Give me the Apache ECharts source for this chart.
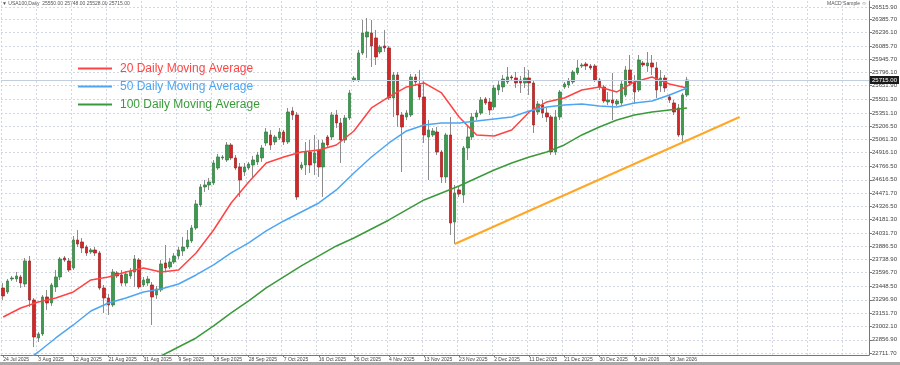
<!DOCTYPE html>
<html><head><meta charset="utf-8">
<script src="https://cdn.jsdelivr.net/npm/echarts@6/dist/echarts.min.js"></script>
<style>html,body{margin:0;padding:0;background:#fff}#c{width:900px;height:365px}</style>
</head><body><div id="c"></div>
<script>
// ---- data ----
const symbolTitle = 'USA100,Daily';
const eaTitle = 'MACD Sample \u263A';
const startDate = '2025-07-24';      // first bar (broker bars Sun-Fri)
const totalSlots = 198;              // bars + empty chart-shift area
const labelEvery = 8;
// [open, close, low, high]
const ohlc = [
[23427,23339,23295,23482],[23383,23504,23361,23526],[23526,23537,23504,23559],[23526,23559,23493,23603],
[23548,23482,23427,23570],[23471,23724,23438,23757],[23724,23295,23218,23779],[23295,22888,22778,23317],
[22877,22921,22833,22943],[22921,23328,22899,23350],[23328,23262,23185,23405],[23262,23460,23229,23482],
[23438,23548,23383,23625],[23548,23746,23515,23768],[23757,23735,23713,23779],[23724,23625,23603,23757],
[23647,23955,23625,23999],[23955,23911,23878,24065],[23933,23867,23812,23977],[23878,23812,23779,23900],
[23823,23845,23801,23867],[23845,23812,23779,23878],[23812,23427,23405,23834],[23427,23317,23152,23460],
[23317,23240,23130,23361],[23240,23603,23218,23636],[23592,23559,23537,23614],[23570,23482,23449,23625],
[23482,23581,23449,23614],[23559,23614,23526,23647],[23603,23746,23438,23790],[23735,23438,23416,23757],
[23460,23515,23438,23548],[23482,23526,23449,23559],[23460,23328,23020,23493],[23350,23416,23306,23449],
[23405,23691,23383,23735],[23702,23647,23603,23900],[23658,23713,23636,23757],[23713,23779,23691,23812],
[23779,23845,23746,23878],[23834,23878,23779,23988],[23878,23955,23856,24065],[23944,24087,23922,24120],
[24087,24351,24065,24395],[24340,24538,24318,24571],[24538,24560,24483,24615],[24560,24593,24505,24637],
[24582,24802,24560,24835],[24747,24868,24725,24901],[24857,24868,24835,24890],[24835,25000,24813,25033],
[25000,24857,24835,25022],[24857,24747,24725,24890],[24758,24615,24428,24802],[24703,24758,24659,24802],
[24747,24791,24725,24813],[24780,24835,24648,24879],[24813,24890,24780,24923],[24857,24967,24813,25000],
[25022,25143,24989,25187],[25110,25000,24945,25165],[25033,25088,25000,25110],[25077,25143,25055,25187],
[25143,25033,25000,25165],[25033,25363,25011,25407],[25374,25330,25275,25418],[25330,24428,24395,25363],
[24747,24780,24725,24813],[24780,24923,24670,25033],[24923,24780,24692,25055],[24802,24912,24670,25110],
[24945,24758,24648,25055],[24758,25022,24428,25055],[25088,25000,24978,25110],[25088,25330,25055,25363],
[25330,25242,25187,25385],[25242,25055,24802,25297],[25055,25297,25022,25330],[25297,25572,25275,25605],
[25715,25737,25693,25759],[25715,26012,25693,26045],[26012,26232,25990,26375],[26188,26243,25957,26397],
[26232,26089,25858,26375],[26177,25968,25880,26265],[26023,26078,26001,26100],[26089,26067,26023,26265],
[26067,25517,25495,26089],[25517,25770,25308,25803],[25770,25330,25198,25803],[25330,25198,24703,25363],
[25308,25352,25275,25385],[25330,25748,25308,25781],[25748,25693,25649,25781],[25660,25528,25495,25825],
[25528,25110,25022,25715],[25088,25165,24615,25275],[25110,25154,25088,25187],[25143,24923,24890,25198],
[24923,24648,24582,24945],[24648,25110,24582,25132],[25110,24142,24010,25308],[24153,24472,23911,24560],
[24505,24461,24428,24538],[24450,24967,24362,24989],[24967,25088,24835,25220],[25088,25308,25055,25352],
[25308,25352,25275,25385],[25352,25495,25330,25528],[25506,25462,25440,25528],[25473,25385,25330,25517],
[25418,25627,25385,25660],[25605,25660,25550,25715],[25638,25726,25583,25770],[25693,25748,25671,25858],
[25748,25737,25715,25770],[25737,25682,25627,25803],[25715,25682,25572,25759],[25682,25737,25627,25858],
[25737,25682,25550,25825],[25682,25220,25132,25715],[25363,25451,25330,25484],[25440,25352,25297,25495],
[25352,25308,25253,25407],[25308,24923,24890,25330],[24923,25308,24890,25385],[25308,25583,25275,25605],
[25638,25671,25616,25693],[25660,25704,25627,25737],[25693,25803,25671,25825],[25792,25847,25770,25935],
[25869,25880,25847,25902],[25891,25869,25825,25913],[25869,25847,25825,25891],[25869,25715,25693,25891],
[25715,25638,25605,25737],[25638,25484,25462,25660],[25473,25495,25440,25583],[25495,25462,25275,25792],
[25451,25484,25429,25506],[25462,25671,25429,25715],[25550,25825,25528,25869],[25825,25682,25649,25990],
[25693,25583,25451,25770],[25605,25935,25583,25990],[25902,25880,25858,25924],[25869,25902,25803,26023],
[25902,25858,25770,25990],[25847,25605,25517,25913],[25649,25737,25583,25825],[25737,25627,25583,25770],
[25528,25495,25462,25561],[25462,25363,25330,25495],[25407,25110,25088,25451],[25110,25550,25033,25572],
[25550,25715,25528,25748]
];
// moving averages read every maStep bars
const maStep = 4;
const ma20Start = 0;
const ma20 = [23108,23207,23273,23317,23383,23515,23548,23603,23647,23603,23625,23812,24065,24362,24593,24802,
  24868,24923,24945,25000,25154,25407,25528,25638,25682,25572,25308,25110,25099,25165,25363,25473,25517,25605,
  25638,25583,25693,25748,25671,25627];
const ma50Start = 4;
const ma50 = [22580,22723,22877,23020,23174,23262,23317,23383,23416,23471,23570,23680,23812,23922,24054,24164,
  24263,24362,24505,24692,24868,25022,25154,25220,25242,25242,25264,25286,25308,25374,25418,25440,25451,25429,
  25418,25462,25484,25550,25627];
const ma100Start = 32;
const ma100 = [22547,22679,22778,22877,23009,23152,23284,23427,23548,23669,23779,23889,23977,24076,24175,24285,
  24395,24472,24549,24637,24725,24802,24868,24923,25000,25110,25198,25275,25330,25363,25385,25407];
// orange support trendline [barIndex, price]
const trendLine = [[103, 23911], [168, 25308]];
// right price scale labels
const yTicks = [22711.7,22856.9,23002.1,23151.7,23296.9,23448.5,23596.7,23738.9,23886.5,24031.7,24181.3,
  24326.5,24471.7,24616.5,24766.5,24916.1,25061.3,25206.5,25351.1,25501.3,25651.9,25796.1,25945.7,26085.7,
  26236.1,26385.7,26515.9];
const yMin = 22689.7, yMax = 26583.7;
const seriesNames = ['20 Daily Moving Average', '50 Daily Moving Average', '100 Daily Moving Average'];
const maColors = ['#ff4444', '#4ea6f2', '#3a9a3a'];

// ---- build ----
const MONTHS = ['Jan','Feb','Mar','Apr','May','Jun','Jul','Aug','Sep','Oct','Nov','Dec'];
const dates = [];
{
  const d = new Date(startDate + 'T00:00:00Z');
  while (dates.length < totalSlots) {
    if (d.getUTCDay() !== 6) dates.push(d.getUTCDate() + ' ' + MONTHS[d.getUTCMonth()] + ' ' + d.getUTCFullYear());
    d.setUTCDate(d.getUTCDate() + 1);
  }
}
const lastIdx = ohlc.length - 1;
const bodies = ohlc.map(r => [r[0], r[1], Math.min(r[0], r[1]), Math.max(r[0], r[1])]);
const maData = (arr, start) => arr.map((v, i) => [start + i * maStep, v]);
const last = ohlc[lastIdx];
const f2 = v => v.toFixed(2);
const header = '\u25BC ' + symbolTitle + '  ' + f2(last[0]) + ' ' + f2(last[3]) + ' ' + f2(last[2]) + ' ' + f2(last[1]);

const FONT = 'Liberation Sans, Arial, sans-serif';
const chart = echarts.init(document.getElementById('c'), null, {renderer: 'canvas'});
chart.setOption({
  animation: false,
  backgroundColor: '#ffffff',
  grid: {left: 1, right: 30, top: 1, bottom: 10},
  legend: {
    orient: 'vertical', left: 78, top: 62, itemGap: 5, itemWidth: 34, itemHeight: 2, padding: 0,
    selectedMode: false,
    textStyle: {fontSize: 12, fontFamily: FONT, lineHeight: 13, padding: [0, 0, 0, 3]},
    data: seriesNames.map((n, i) => ({name: n, icon: 'rect', textStyle: {color: maColors[i]}}))
  },
  xAxis: {
    type: 'category', data: dates, boundaryGap: true,
    axisLine: {lineStyle: {color: '#777', width: 1}},
    axisTick: {show: true, alignWithLabel: true, length: 2, interval: (i) => i % labelEvery === 0 && i <= lastIdx, lineStyle: {color: '#777'}},
    axisLabel: {interval: (i) => i % labelEvery === 0 && i <= lastIdx, fontSize: 5, color: '#444', margin: 2, align: 'left', fontFamily: FONT},
    splitLine: {show: true, interval: (i) => i % labelEvery === 0, lineStyle: {color: '#d3d9e4', type: [2, 2]}}
  },
  yAxis: {
    type: 'value', position: 'right', min: yMin, max: yMax, scale: true,
    axisLine: {show: true, lineStyle: {color: '#777'}},
    axisTick: {show: true, customValues: yTicks, length: 3, lineStyle: {color: '#777'}},
    axisLabel: {customValues: yTicks, formatter: v => v.toFixed(2), fontSize: 6, color: '#444', margin: 3, fontFamily: FONT},
    splitLine: {show: true, lineStyle: {color: '#d3d9e4', type: [2, 2]}}
  },
  graphic: [
    {type: 'text', left: 2, top: 1, style: {text: header, fontSize: 5, fill: '#555', fontFamily: FONT}},
    {type: 'text', left: 827, top: 1, style: {text: eaTitle, fontSize: 5, fill: '#555', fontFamily: FONT}},
    {type: 'rect', left: 0, top: 362, shape: {width: 900, height: 3}, style: {fill: '#a9a9a9'}}
  ],
  series: [
    {
      name: 'wicks', type: 'candlestick', data: ohlc, barWidth: 0.01, silent: true,
      itemStyle: {color: '#8c8c8c', color0: '#8c8c8c', borderColor: '#8c8c8c', borderColor0: '#8c8c8c', borderWidth: 1}
    },
    {
      name: 'USA100', type: 'candlestick', data: bodies, barWidth: 3, silent: true,
      itemStyle: {color: '#3c9a4f', color0: '#d42626', borderColor: '#2f7a3e', borderColor0: '#a01c1c', borderWidth: 0.7},
      markLine: {
        silent: true, symbol: ['none', 'none'],
        data: [{yAxis: last[1]}],
        lineStyle: {color: '#c3cde0', type: 'solid', width: 1},
        label: {position: 'end', distance: 1, formatter: p => f2(p.value), fontSize: 6, color: '#fff',
          backgroundColor: '#1a1a1a', padding: [1, 2], fontFamily: FONT}
      }
    },
    {name: seriesNames[0], type: 'line', data: maData(ma20, ma20Start), showSymbol: false, lineStyle: {color: maColors[0], width: 1.5}, itemStyle: {color: maColors[0]}},
    {name: seriesNames[1], type: 'line', data: maData(ma50, ma50Start), showSymbol: false, lineStyle: {color: maColors[1], width: 1.5}, itemStyle: {color: maColors[1]}},
    {name: seriesNames[2], type: 'line', data: maData(ma100, ma100Start), showSymbol: false, lineStyle: {color: maColors[2], width: 1.5}, itemStyle: {color: maColors[2]}},
    {name: 'trend', type: 'line', data: trendLine, showSymbol: false, lineStyle: {color: '#ffa726', width: 2}, itemStyle: {color: '#ffa726'}}
  ]
});
</script></body></html>
